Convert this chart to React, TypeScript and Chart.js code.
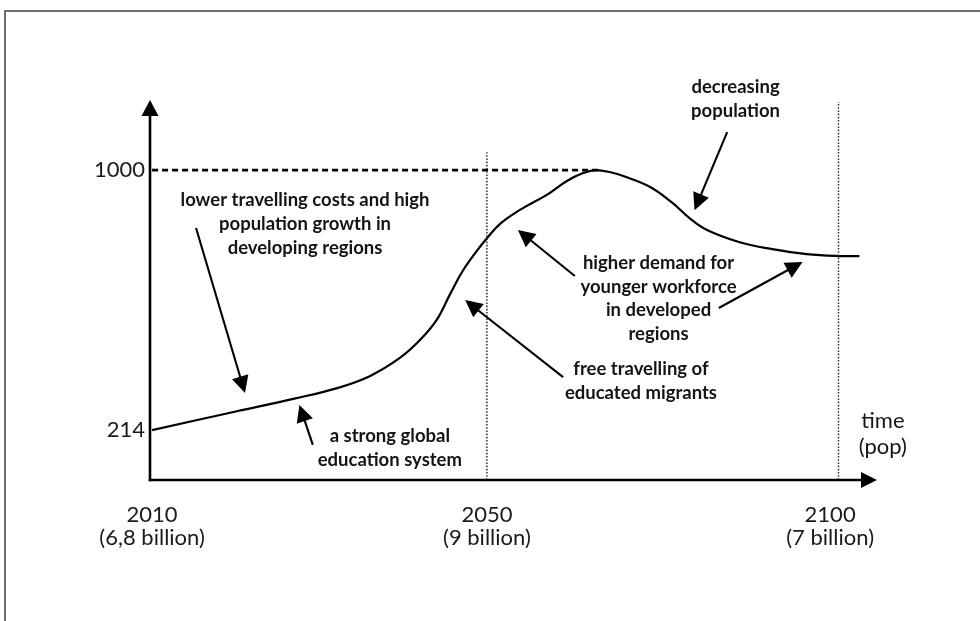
import React, { useEffect, useRef } from 'react';
import { Chart, registerables } from 'chart.js';

Chart.register(...registerables);

// ---- data (schematic time units: 2010 = 0, 2050 = 40) ----
const CURVE_T = [0, 10, 17, 22, 26, 29.6, 32, 34, 35.6, 37.1, 38.8, 40, 41.6, 43.9, 47.2, 49.6, 51.5, 53, 55, 56.2, 59.5, 62.2, 64.2, 66.3, 70.2, 74.1, 78.2, 82.1, 84.5];
const CURVE_V = [214, 270, 309, 340, 377, 432, 486, 547, 625, 695, 756, 794, 838, 879, 926, 968, 991, 1000, 992, 983, 949, 900, 855, 819, 782, 761, 746, 740, 740];

const X_RANGE = [-0.25, 86.6];
const Y_RANGE = [63, 1212];

const TICK_T = [0, 40, 81];
const TICK_YEARS = ['2010', '2050', '2100'];
const TICK_POP = ['(6,8 billion)', '(9 billion)', '(7 billion)'];
const Y_TICKS = [214, 1000];

const PEAK_V = 1000;
const PEAK_LINE_T = [0, 53.3];

const MARKER_T = [40, 82];
const MARKER_TOP_V = [1054, 1206];

const NOTE_LINES = [
  ['lower travelling costs and high', 'population growth in', 'developing regions'],
  ['a strong global', 'education system'],
  ['decreasing', 'population'],
  ['higher demand for', 'younger workforce', 'in developed', 'regions'],
  ['free travelling of', 'educated migrants'],
];
const NOTE_T = [18.27, 28.4, 69.7, 60.5, 58.4];
const NOTE_V = [909, 196, 1251, 719, 398];

const ARROW_FROM_T = [5.25, 19.2, 49.1, 50.5, 67.7, 68.7];
const ARROW_FROM_V = [825, 169, 374, 680, 583, 1115];
const ARROW_TO_T = [11.1, 17.6, 37.4, 43.7, 77.7, 64.8];
const ARROW_TO_V = [326, 290, 607, 819, 722, 879];

const AXIS_LABEL = ['time', '(pop)'];
const AXIS_LABEL_T = 87.3;
const AXIS_LABEL_V = 241;

// ---- helpers ----
function drawArrow(ctx: CanvasRenderingContext2D, x1: number, y1: number, x2: number, y2: number, len: number, half: number) {
  const a = Math.atan2(y2 - y1, x2 - x1);
  const c = Math.cos(a), s = Math.sin(a);
  const bx = x2 - len * c, by = y2 - len * s;
  ctx.beginPath();
  ctx.moveTo(x1, y1);
  ctx.lineTo(bx + c, by + s);
  ctx.stroke();
  ctx.beginPath();
  ctx.moveTo(x2, y2);
  ctx.lineTo(bx + half * s, by - half * c);
  ctx.lineTo(bx - half * s, by + half * c);
  ctx.closePath();
  ctx.fill();
}

const decorPlugin = {
  id: 'decor',
  afterDatasetsDraw(chart: any) {
    const { ctx, chartArea: ca, scales } = chart;
    const xs = scales.x, ys = scales.y;
    ctx.save();
    // outer frame (top + left)
    ctx.strokeStyle = '#6e6e6e';
    ctx.lineWidth = 2;
    ctx.beginPath();
    ctx.moveTo(5, chart.height);
    ctx.lineTo(5, 11);
    ctx.lineTo(chart.width, 11);
    ctx.stroke();

    // axes with arrowheads
    ctx.strokeStyle = '#000';
    ctx.fillStyle = '#000';
    ctx.lineWidth = 2.6;
    drawArrow(ctx, ca.left, ca.bottom + 1.3, ca.left, ca.top, 16, 8.5);
    drawArrow(ctx, ca.left - 1.3, ca.bottom, ca.right, ca.bottom, 16, 8);

    // annotation arrows
    ctx.lineWidth = 2.1;
    for (let i = 0; i < ARROW_FROM_T.length; i++) {
      drawArrow(
        ctx,
        xs.getPixelForValue(ARROW_FROM_T[i]), ys.getPixelForValue(ARROW_FROM_V[i]),
        xs.getPixelForValue(ARROW_TO_T[i]), ys.getPixelForValue(ARROW_TO_V[i]),
        17, 8.5
      );
    }

    // annotation text
    ctx.fillStyle = '#141414';
    ctx.textAlign = 'center';
    ctx.textBaseline = 'middle';
    ctx.font = 'bold 18.5px Lato';
    NOTE_LINES.forEach((lines, i) => {
      const px = xs.getPixelForValue(NOTE_T[i]);
      const py = ys.getPixelForValue(NOTE_V[i]);
      lines.forEach((ln, j) => ctx.fillText(ln, px, py + j * 23.7));
    });

    // axis label
    ctx.font = '22px Lato';
    const lx = xs.getPixelForValue(AXIS_LABEL_T);
    const ly = ys.getPixelForValue(AXIS_LABEL_V);
    AXIS_LABEL.forEach((ln, j) => ctx.fillText(ln, lx, ly + j * 26));
    ctx.restore();
  },
};

export default function App() {
  const ref = useRef<HTMLCanvasElement>(null);
  useEffect(() => {
    document.body.style.margin = '0';
    const curve = CURVE_T.map((t, i) => ({ x: t, y: CURVE_V[i] }));
    const peak = PEAK_LINE_T.map((t) => ({ x: t, y: PEAK_V }));
    const markers = MARKER_T.map((t, i) => ({
      label: 'marker' + i,
      data: [{ x: t, y: Y_RANGE[0] }, { x: t, y: MARKER_TOP_V[i] }],
      borderColor: '#333',
      borderWidth: 1.5,
      borderDash: [1.6, 1.6],
      pointRadius: 0,
      fill: false,
    }));
    const chart = new Chart(ref.current as HTMLCanvasElement, {
      type: 'line',
      data: {
        datasets: [
          ...markers,
          {
            label: 'peak',
            data: peak,
            borderColor: '#000',
            borderWidth: 2.6,
            borderDash: [6, 4],
            pointRadius: 0,
            fill: false,
          },
          {
            label: 'population',
            data: curve,
            borderColor: '#000',
            borderWidth: 2.2,
            pointRadius: 0,
            tension: 0.4,
            fill: false,
          },
        ] as any,
      },
      options: {
        responsive: false,
        animation: false,
        devicePixelRatio: 1,
        layout: { padding: { top: 100, right: 103, left: 0, bottom: 0 } },
        plugins: { legend: { display: false }, tooltip: { enabled: false } },
        scales: {
          x: {
            type: 'linear',
            min: X_RANGE[0],
            max: X_RANGE[1],
            grid: { display: false, drawTicks: false },
            border: { display: false },
            afterBuildTicks: (scale: any) => {
              scale.ticks = TICK_T.map((v) => ({ value: v }));
            },
            afterFit: (scale: any) => {
              scale.height = 141;
            },
            ticks: {
              autoSkip: false,
              maxRotation: 0,
              minRotation: 0,
              padding: 23,
              color: '#1a1a1a',
              font: { family: 'Lato', size: 22, lineHeight: '23px' } as any,
              callback: (v: any) => {
                const i = TICK_T.indexOf(Number(v));
                return i >= 0 ? [TICK_YEARS[i], TICK_POP[i]] : '';
              },
            },
          },
          y: {
            type: 'linear',
            min: Y_RANGE[0],
            max: Y_RANGE[1],
            grid: { display: false, drawTicks: false },
            border: { display: false },
            afterBuildTicks: (scale: any) => {
              scale.ticks = Y_TICKS.map((v) => ({ value: v }));
            },
            afterFit: (scale: any) => {
              scale.width = 150;
            },
            ticks: {
              padding: 5,
              color: '#1a1a1a',
              font: { family: 'Lato', size: 22 },
              callback: (v: any) => String(v),
            },
          },
        },
      } as any,
      plugins: [decorPlugin],
    });
    return () => chart.destroy();
  }, []);
  return (
    <div style={{ width: 980, height: 621, background: '#fff' }}>
      <canvas ref={ref} width={980} height={621} style={{ display: 'block' }} />
    </div>
  );
}
